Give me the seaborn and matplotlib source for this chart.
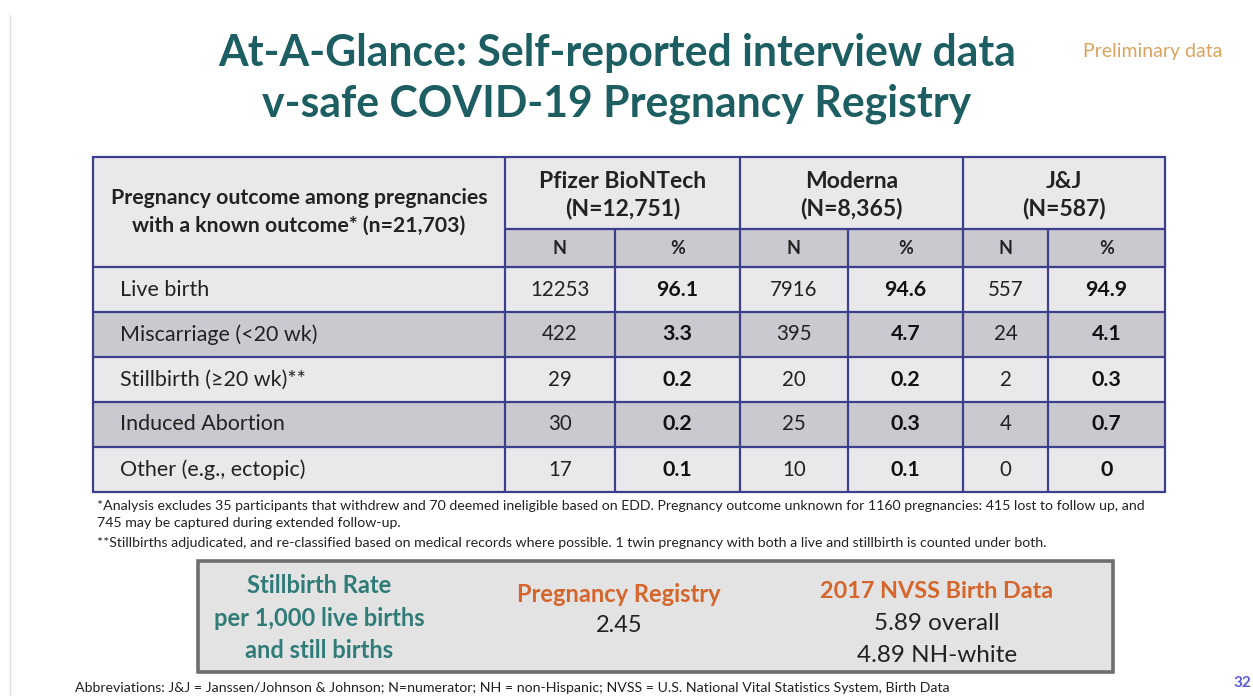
import matplotlib
matplotlib.use("Agg")
import matplotlib.pyplot as plt
from matplotlib.colors import ListedColormap
from matplotlib.patches import Rectangle
import numpy as np
import seaborn as sns

# Table data
outcomes = ["Live birth", "Miscarriage (<20 wk)", "Stillbirth (\u226520 wk)**",
            "Induced Abortion", "Other (e.g., ectopic)"]
vaccines = ["Pfizer BioNTech\n(N=12,751)", "Moderna\n(N=8,365)", "J&J\n(N=587)"]
pfizer_n = [12253, 422, 29, 30, 17]
pfizer_pct = [96.1, 3.3, 0.2, 0.2, 0.1]
moderna_n = [7916, 395, 20, 25, 10]
moderna_pct = [94.6, 4.7, 0.2, 0.3, 0.1]
jj_n = [557, 24, 2, 4, 0]
jj_pct = [94.9, 4.1, 0.3, 0.7, 0]
row_shade = [0, 1, 0, 1, 0]

# Stillbirth box
registry_rate = "2.45"
nvss_rates = ["5.89 overall", "4.89 NH-white"]

sns.set_theme(style="white")
plt.rcParams['font.family'] = ['Lato', 'DejaVu Sans']

W, H = 1253, 696
fig = plt.figure(figsize=(W / 100, H / 100), dpi=100)

navy = "#3b3f8c"
light = "#e9e9ec"
dark = "#c9c9cf"
teal = "#1d5e63"
ink = "#222222"

# layout (pixels)
cols = [93, 505, 615, 740, 848, 963, 1048, 1165]
top, sub, body = 157, 229, 267
row_h = 45
bottom = body + row_h * len(outcomes)

# body shading drawn as a seaborn heatmap
hax = fig.add_axes([cols[0] / W, 1 - bottom / H, (cols[-1] - cols[0]) / W, (bottom - body) / H])
sns.heatmap(np.array(row_shade).reshape(-1, 1), ax=hax, cmap=ListedColormap([light, dark]),
            vmin=0, vmax=1, cbar=False, xticklabels=False, yticklabels=False)

ax = fig.add_axes([0, 0, 1, 1])
ax.patch.set_alpha(0)
ax.set_xlim(0, W)
ax.set_ylim(H, 0)
ax.axis("off")

# header backgrounds
ax.add_patch(Rectangle((cols[0], top), cols[-1] - cols[0], body - top, color=light, zorder=0))
ax.add_patch(Rectangle((cols[1], sub), cols[-1] - cols[1], body - sub, color=dark, zorder=0))

# grid lines
lw = 1.6
for y in [top, body] + [body + row_h * (i + 1) for i in range(len(outcomes))]:
    ax.plot([cols[0], cols[-1]], [y, y], color=navy, lw=lw)
ax.plot([cols[1], cols[-1]], [sub, sub], color=navy, lw=lw)
for x in [cols[0], cols[1], cols[3], cols[5], cols[7]]:
    ax.plot([x, x], [top, bottom], color=navy, lw=lw)
for x in [cols[2], cols[4], cols[6]]:
    ax.plot([x, x], [sub, bottom], color=navy, lw=lw)

# header text
ax.text((cols[0] + cols[1]) / 2, (top + body) / 2,
        "Pregnancy outcome among pregnancies\nwith a known outcome* (n=21,703)",
        ha="center", va="center", fontsize=15.3, fontweight="bold", color=ink, linespacing=1.45)
for i, name in enumerate(vaccines):
    x0, x1 = cols[1 + 2 * i], cols[3 + 2 * i]
    ax.text((x0 + x1) / 2, (top + sub) / 2 + 2, name, ha="center", va="center",
            fontsize=16.5, fontweight="bold", color=ink, linespacing=1.3)
    ax.text((x0 + cols[2 + 2 * i]) / 2, (sub + body) / 2, "N", ha="center", va="center",
            fontsize=13, fontweight="bold", color=ink)
    ax.text((cols[2 + 2 * i] + x1) / 2, (sub + body) / 2, "%", ha="center", va="center",
            fontsize=13, fontweight="bold", color=ink)

# body text
series = [(pfizer_n, pfizer_pct), (moderna_n, moderna_pct), (jj_n, jj_pct)]
for r, name in enumerate(outcomes):
    yc = body + row_h * r + row_h / 2
    ax.text(cols[0] + 27, yc, name, ha="left", va="center", fontsize=15.5, color=ink)
    for i, (ns, ps) in enumerate(series):
        ax.text((cols[1 + 2 * i] + cols[2 + 2 * i]) / 2, yc, f"{ns[r]}", ha="center", va="center",
                fontsize=14.8, color=ink)
        ax.text((cols[2 + 2 * i] + cols[3 + 2 * i]) / 2, yc, f"{ps[r]:g}", ha="center", va="center",
                fontsize=15.4, fontweight="bold", color="#111111")

# footnotes
fn = dict(ha="left", va="center", fontsize=10.2, color=ink)
ax.text(97, 506, "*Analysis excludes 35 participants that withdrew and 70 deemed ineligible based on EDD. "
        "Pregnancy outcome unknown for 1160 pregnancies: 415 lost to follow up, and", **fn)
ax.text(97, 523, "745 may be captured during extended follow-up.", **fn)
ax.text(97, 543, "**Stillbirths adjudicated, and re-classified based on medical records where possible. "
        "1 twin pregnancy with both a live and stillbirth is counted under both.", **fn)

# titles
ax.text(617, 53, "At-A-Glance: Self-reported interview data", ha="center", va="center",
        fontsize=30.8, fontweight="bold", color=teal)
ax.text(617, 104, "v-safe COVID-19 Pregnancy Registry", ha="center", va="center",
        fontsize=30.8, fontweight="bold", color=teal)
ax.text(1153, 52, "Preliminary data", ha="center", va="center", fontsize=14, color="#dba35f")

# stillbirth box
ax.add_patch(Rectangle((198, 561), 915, 111, facecolor="#e3e3e3", edgecolor="#6e6e6e", lw=2.6, zorder=0))
boxteal = "#2e7b78"
orange = "#d5652b"
ax.text(319, 618, "Stillbirth Rate\nper 1,000 live births\nand still births", ha="center", va="center",
        fontsize=17, fontweight="bold", color=boxteal, linespacing=1.5)
ax.text(619, 594, "Pregnancy Registry", ha="center", va="center", fontsize=17, fontweight="bold", color=orange)
ax.text(619, 626, registry_rate, ha="center", va="center", fontsize=17, color=ink)
ax.text(937, 592, "2017 NVSS Birth Data", ha="center", va="center", fontsize=16.8, fontweight="bold", color=orange)
ax.text(937, 624, nvss_rates[0], ha="center", va="center", fontsize=17.5, color=ink)
ax.text(937, 656, nvss_rates[1], ha="center", va="center", fontsize=17.5, color=ink)

# footer
ax.text(75, 688, "Abbreviations: J&J = Janssen/Johnson & Johnson; N=numerator; NH = non-Hispanic; "
        "NVSS = U.S. National Vital Statistics System, Birth Data", ha="left", va="center",
        fontsize=10.2, color=ink)
ax.text(1242, 683, "32", ha="center", va="center", fontsize=11, fontweight="bold", color="#5b5bd6")
ax.plot([10, 10], [15, H], color="#dddddd", lw=1)

fig.savefig("out.png", dpi=100)
